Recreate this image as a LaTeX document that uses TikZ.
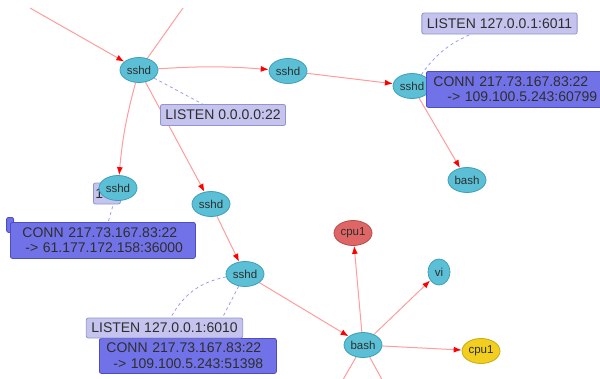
\documentclass[tikz,border=0pt]{standalone}
\usepackage{fontspec}
\setmainfont{Liberation Sans}
\usepackage{tikz}
\usetikzlibrary{arrows.meta,shapes.geometric,backgrounds}
\definecolor{procfill}{HTML}{5BBFD6}
\definecolor{procline}{HTML}{3E9FB8}
\definecolor{hotfill}{HTML}{DE6666}
\definecolor{hotline}{HTML}{B84A4A}
\definecolor{warmfill}{HTML}{F2CE1E}
\definecolor{warmline}{HTML}{C9A814}
\definecolor{lsnfill}{HTML}{C4C4EE}
\definecolor{lsnline}{HTML}{9494CC}
\definecolor{connfill}{HTML}{7272E8}
\definecolor{connline}{HTML}{4D4DC2}
\definecolor{link}{HTML}{FF9C9C}
\definecolor{sock}{HTML}{9C9CF5}
\definecolor{ink}{HTML}{2E2E2E}
\tikzset{
  >={Latex[length=8pt,width=6pt,color=red]},
  flow/.style={->,line width=1pt,draw=link},
  plainflow/.style={line width=1pt,draw=link},
  sockflow/.style={line width=0.8pt,draw=sock,dashed},
  proc/.style={ellipse,draw=procline,fill=procfill,line width=0.8pt,inner sep=0pt,
    minimum width=38pt,minimum height=25pt,font=\fontsize{11.5}{12}\selectfont,text=ink},
  hotproc/.style={proc,draw=hotline,fill=hotfill},
  warmproc/.style={proc,draw=warmline,fill=warmfill},
  lsnbox/.style={rectangle,rounded corners=2pt,draw=lsnline,fill=lsnfill,line width=0.8pt,
    font=\fontsize{14}{15.5}\selectfont,text=ink,inner xsep=5pt,inner ysep=2pt,minimum height=21pt},
  connbox/.style={lsnbox,draw=connline,fill=connfill,inner xsep=0pt,align=left,minimum height=36pt}
}
\begin{document}
\begin{tikzpicture}[x=1pt,y=-1pt]
  \useasboundingbox (0,0) rectangle (600,378);
  \node[proc] (s1) at (139,70) {sshd};
  \node[proc] (s2) at (288,71) {sshd};
  \node[proc] (s3) at (412,86) {sshd};
  \node[proc] (b1) at (467,180) {bash};
  \node[lsnbox,anchor=west,inner xsep=2pt,text width=23pt] (hid) at (93,193.5) {1};
  \node[proc] (s4) at (118,188) {sshd};
  \node[proc] (s5) at (211,204) {sshd};
  \node[proc] (s6) at (245,274) {sshd};
  \node[proc] (b2) at (363,345) {bash};
  \node[hotproc] (cpuA) at (353,233) {cpu1};
  \node[proc,minimum width=22pt,minimum height=26pt] (vi) at (439,272) {vi};
  \node[warmproc] (cpuB) at (481,351) {cpu1};
  \node[lsnbox] (l22) at (223,115) {LISTEN 0.0.0.0:22};
  \node[lsnbox] (l6011) at (499.5,23.5) {LISTEN 127.0.0.1:6011};
  \node[connbox,anchor=north west,text width=185pt] (cr) at (426,71)
    {\hspace*{7pt}CONN 217.73.167.83:22\\\hspace*{21pt}-> 109.100.5.243:60799};
  \node[connbox,anchor=north east,minimum width=7pt,minimum height=15pt] (cut) at (14,217) {};
  \node[connbox,anchor=north west,text width=185pt] (cleft) at (10,222)
    {\hspace*{12pt}CONN 217.73.167.83:22\\\hspace*{15pt}-> 61.177.172.158:36000};
  \node[connbox,anchor=north west,text width=177pt,minimum height=35pt] (cbot) at (99,338)
    {\hspace*{7pt}CONN 217.73.167.83:22\\\hspace*{14pt}-> 109.100.5.243:51398};
  \node[lsnbox,minimum height=20pt] (l6010) at (164.5,328) {LISTEN 127.0.0.1:6010};
  \coordinate (in1) at (30,8);
  \coordinate (out1) at (183,8);
  \coordinate (out2) at (340,385);
  \coordinate (out3) at (385,385);
  \begin{scope}[on background layer]
    \draw[flow] (in1) -- (s1);
    \draw[plainflow] (s1) -- (out1);
    \draw[flow] (s1) to[bend left=4] (s2);
    \draw[flow] (s2) -- (s3);
    \draw[flow] (s3) -- (b1);
    \draw[flow] (s1) to[bend right=5] (s4);
    \draw[flow] (s1) -- (s5);
    \draw[flow] (s5) -- (s6);
    \draw[flow] (s6) -- (b2);
    \draw[flow] (b2) -- (cpuA);
    \draw[flow] (b2) -- (vi);
    \draw[flow] (b2) -- (cpuB);
    \draw[plainflow] (b2) -- (out2);
    \draw[plainflow] (b2) -- (out3);
    \draw[sockflow] (s1) -- (l22);
    \draw[sockflow] (s3) to[bend left=15] (l6011);
    \draw[sockflow] (s4) -- (cleft);
    \draw[sockflow] (s6) to[bend right=25] (l6010);
    \draw[sockflow] (s6) -- ([xshift=24pt]cbot.north);
  \end{scope}
\end{tikzpicture}
\end{document}
